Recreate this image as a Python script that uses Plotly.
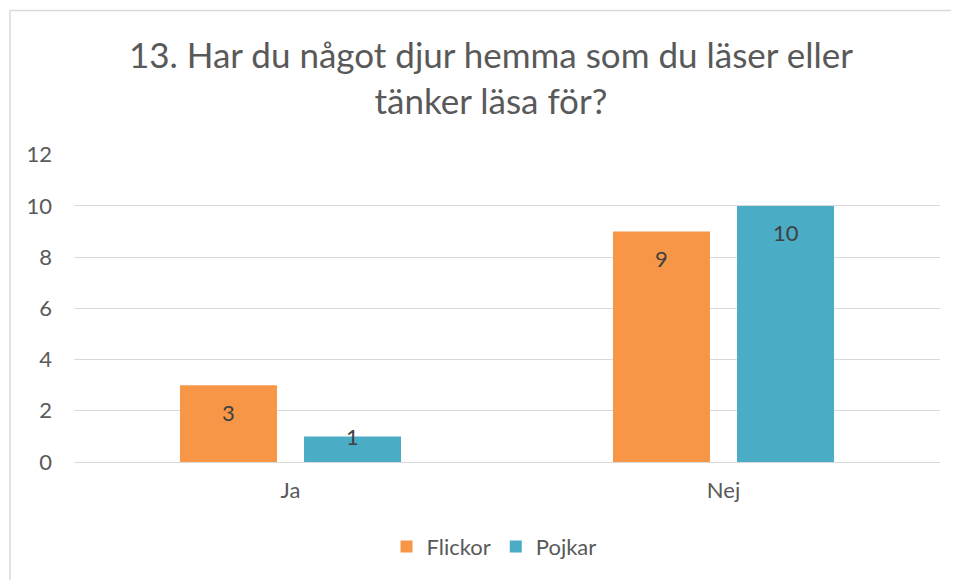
import plotly.graph_objects as go

categories = ["Ja", "Nej"]
flickor = [3, 9]
pojkar = [1, 10]
series_names = ["Flickor", "Pojkar"]
y_ticks = [0, 2, 4, 6, 8, 10, 12]
title_text = "13. Har du något djur hemma som du läser eller<br>tänker läsa för?"

FONT = "Lato"
ORANGE = "#F79646"
TEAL = "#4BACC6"
TXT = "#595959"

# page body has an 8px margin; figure sized to fill the rest of the window
W, H = 951, 572
ML, MR, MT, MB = 66, 19, 147, 116
plot_w = W - ML - MR
plot_h = H - MT - MB
Y_MAX = 12.03
px_per_unit = plot_h / Y_MAX

fig = go.Figure()
fig.add_trace(go.Bar(x=categories, y=flickor, name=series_names[0],
                     marker=dict(color=ORANGE, line=dict(width=0))))
fig.add_trace(go.Bar(x=categories, y=pojkar, name=series_names[1],
                     marker=dict(color=TEAL, line=dict(width=0))))

annotations = []
for vals, xs in ((flickor, -62), (pojkar, 62)):
    for c, v in zip(categories, vals):
        hpx = v * px_per_unit
        ys = -27 if hpx > 54 else 0
        annotations.append(dict(x=c, y=v, xref="x", yref="y", text=str(v),
                                showarrow=False, xshift=xs, yshift=ys,
                                yanchor="middle",
                                font=dict(family=FONT, size=22, color="#404040")))

fig.update_layout(
    width=W, height=H,
    margin=dict(l=ML, r=MR, t=MT - 1, b=MB),
    paper_bgcolor="white", plot_bgcolor="white",
    barmode="group", bargap=0.427, bargroupgap=0.218,
    title=dict(text=title_text, x=0.4815, xref="paper", xanchor="center",
               y=1 - 60 / H, yref="container", yanchor="top",
               font=dict(family=FONT, size=35, color=TXT)),
    font=dict(family=FONT, color=TXT),
    showlegend=True,
    legend=dict(orientation="h", x=0.485, xanchor="center",
                y=-0.275, yanchor="middle", font=dict(family=FONT, size=22, color=TXT),
                traceorder="normal"),
    annotations=annotations,
    shapes=[dict(type="rect", xref="paper", yref="paper",
                 x0=(2 - ML) / plot_w, x1=1.2,
                 y0=-0.6, y1=(H - MB - 3) / plot_h,
                 line=dict(color="#D9D9D9", width=1.5), layer="below")],
)
fig.update_yaxes(range=[0, Y_MAX], tickvals=y_ticks, showgrid=True, gridcolor="#D9D9D9",
                 gridwidth=1.3, zeroline=False, showline=False, ticks="",
                 tickfont=dict(family=FONT, size=22, color=TXT), ticklabelstandoff=21)
fig.update_xaxes(showline=True, linecolor="#D9D9D9", linewidth=1.3, ticks="",
                 tickfont=dict(family=FONT, size=22, color=TXT), ticklabelstandoff=8)

fig.write_html("out.html")
